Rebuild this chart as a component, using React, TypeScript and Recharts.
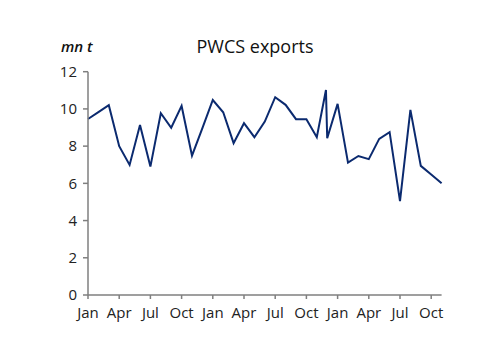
import { LineChart, Line, XAxis, YAxis } from "recharts";

const AXIS = "#7f7f7f";
const NAVY = "#0b2a6f";

// month position counted from the first January (0 = Jan, year 1)
const monthPos = [
  0, 1, 2, 3, 4, 5, 6, 7, 8, 9, 10, 11,
  12, 13, 14, 15, 16, 17, 18, 19, 20, 21, 22, 22.88, 23,
  24, 25, 26, 27, 28, 29, 30, 31, 32, 33, 34,
];

// PWCS exports, mn t
const exportsMt = [
  9.46, 9.83, 10.2, 8.0, 6.99, 9.14, 6.9, 9.77, 8.99, 10.16, 7.49, 8.97,
  10.48, 9.82, 8.16, 9.23, 8.48, 9.32, 10.63, 10.22, 9.45, 9.45, 8.48, 11.02, 8.42,
  10.27, 7.11, 7.47, 7.3, 8.39, 8.75, 5.05, 9.95, 6.94, 6.47, 6.0,
];

const monthNames = ["Jan", "Apr", "Jul", "Oct"];
const xTicks = [0, 3, 6, 9, 12, 15, 18, 21, 24, 27, 30, 33];
const yTicks = [0, 2, 4, 6, 8, 10, 12];

const data = monthPos.map((m, i) => ({ m, v: exportsMt[i] }));

const tickFont = { fontSize: 15, fill: "#222", fontFamily: "Open Sans" };

export default function App() {
  return (
    <div style={{ position: "relative", width: 484, height: 337, background: "#fff" }}>
      <div
        style={{
          position: "absolute",
          left: 0,
          width: 494,
          top: 26,
          textAlign: "center",
          fontFamily: "Open Sans",
          fontSize: 18,
          color: "#111",
        }}
      >
        PWCS exports
      </div>
      <div
        style={{
          position: "absolute",
          left: 53,
          top: 28,
          fontFamily: "Open Sans",
          fontStyle: "italic",
          fontWeight: 600,
          fontSize: 15,
          color: "#111",
        }}
      >
        mn t
      </div>
      <LineChart
        width={484}
        height={337}
        data={data}
        margin={{ top: 63.7, right: 50.4, left: 40, bottom: 20 }}
      >
        <XAxis
          dataKey="m"
          type="number"
          domain={[0, 34]}
          ticks={xTicks}
          tickFormatter={(t: number) => monthNames[(t / 3) % 4]}
          stroke={AXIS}
          strokeWidth={1.5}
          tickSize={4}
          tickMargin={8}
          tick={tickFont}
          height={30}
        />
        <YAxis
          domain={[0, 12]}
          ticks={yTicks}
          stroke={AXIS}
          strokeWidth={1.5}
          tickSize={5}
          tickMargin={6}
          tick={tickFont}
          width={40}
        />
        <Line
          type="linear"
          dataKey="v"
          stroke={NAVY}
          strokeWidth={2}
          dot={false}
          isAnimationActive={false}
        />
      </LineChart>
    </div>
  );
}
